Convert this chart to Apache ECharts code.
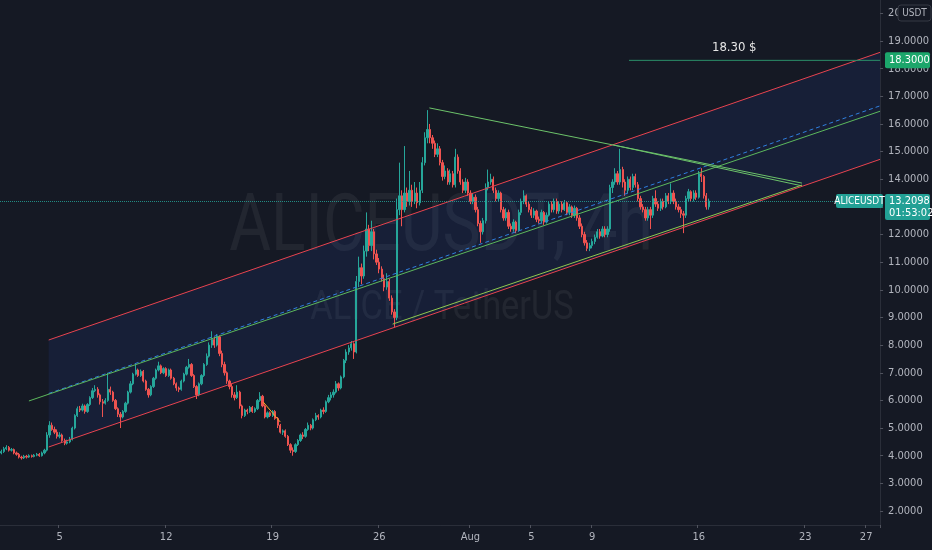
<!DOCTYPE html>
<html>
<head>
<meta charset="utf-8">
<script src="https://cdn.jsdelivr.net/npm/echarts@6/dist/echarts.min.js"></script>
<style>
html, body { margin: 0; padding: 0; background: #151924; }
#chart { width: 932px; height: 550px; }
</style>
</head>
<body>
<div id="chart"></div>
<script>
// ALICEUSDT 4h candles, first bar 2021-07-01 04:00
var startTime = Date.UTC(2021, 6, 1, 4);
var barCount = 347;

var opens = [
  4.1, 4.15, 4.25, 4.3, 4.2, 4.22, 4.1, 4.05, 3.95, 3.92,
  3.98, 3.95, 4.0, 3.97, 4.02, 4.05, 4.0, 4.1, 4.2, 4.75,
  5.1, 4.95, 4.85, 4.7, 4.75, 4.55, 4.45, 4.5, 4.6, 5.0,
  5.45, 5.7, 5.65, 5.8, 5.6, 5.85, 6.1, 6.35, 6.4, 6.2,
  5.95, 5.9, 6.0, 6.4, 6.3, 6.0, 5.7, 5.5, 5.4, 5.6,
  5.9, 6.3, 6.6, 6.95, 7.1, 6.9, 7.05, 6.7, 6.4, 6.2,
  6.5, 6.8, 7.1, 7.25, 7.0, 7.15, 6.9, 7.1, 6.8, 6.6,
  6.45, 6.4, 6.7, 6.95, 7.2, 7.3, 6.9, 6.5, 6.2, 6.6,
  6.9, 7.3, 7.6, 8.0, 8.2, 8.0, 8.3, 7.7, 7.3, 7.0,
  6.7, 6.5, 6.2, 6.1, 6.3, 5.8, 5.45, 5.65, 5.6, 5.75,
  5.6, 5.7, 6.0, 6.15, 5.8, 5.4, 5.55, 5.45, 5.6, 5.35,
  5.1, 4.85, 4.9, 4.7, 4.4, 4.2, 4.15, 4.4, 4.55, 4.75,
  4.7, 4.95, 5.1, 5.0, 5.3, 5.45, 5.4, 5.65, 5.6, 5.95,
  6.1, 6.2, 6.3, 6.6, 6.45, 6.85, 7.45, 7.75, 7.9, 8.05,
  7.75, 10.3, 10.8, 10.5, 11.4, 12.2, 11.6, 12.1, 11.3, 11.0,
  10.75, 10.4, 10.1, 10.3, 9.7, 9.2, 9.0, 12.9, 13.4, 12.9,
  13.5, 13.2, 13.6, 13.2, 13.5, 13.15, 13.6, 14.6, 15.5, 15.8,
  15.5, 15.3, 14.9, 15.1, 14.6, 14.1, 14.3, 13.9, 14.2, 13.8,
  14.8, 14.3, 13.9, 13.6, 13.9, 13.5, 13.2, 13.35, 12.9, 12.4,
  12.1, 12.5, 13.7, 13.9, 14.0, 13.6, 13.3, 13.5, 12.9, 12.6,
  12.8, 12.3, 12.2, 12.45, 12.15, 12.8, 13.2, 13.4, 13.1, 12.9,
  12.7, 12.85, 12.55, 12.5, 12.8, 12.45, 12.7, 13.1, 12.9, 13.2,
  12.85, 13.1, 12.9, 13.15, 12.8, 13.0, 12.7, 12.95, 12.6, 12.3,
  12.0, 11.7, 11.5, 11.6, 11.75, 11.9, 12.1, 11.95, 12.2, 12.0,
  12.2, 13.7, 13.9, 14.2, 13.9, 14.35, 13.9, 13.6, 14.0, 13.7,
  14.1, 13.8, 13.3, 13.0, 12.9, 12.6, 12.9, 12.7, 13.3, 13.1,
  12.95, 13.2, 13.0, 13.4, 13.2, 13.5, 13.2, 13.0, 12.9, 12.75,
  12.7, 13.3, 13.55, 13.3, 13.5, 13.35, 14.2, 14.1, 13.4, 13.0
];
var closes = [
  4.15, 4.25, 4.3, 4.2, 4.22, 4.1, 4.05, 3.95, 3.92, 3.98,
  3.95, 4.0, 3.97, 4.02, 4.05, 4.0, 4.1, 4.2, 4.75, 5.1,
  4.95, 4.85, 4.7, 4.75, 4.55, 4.45, 4.5, 4.6, 5.0, 5.45,
  5.7, 5.65, 5.8, 5.6, 5.85, 6.1, 6.35, 6.4, 6.2, 5.95,
  5.9, 6.0, 6.4, 6.3, 6.0, 5.7, 5.5, 5.4, 5.6, 5.9,
  6.3, 6.6, 6.95, 7.1, 6.9, 7.05, 6.7, 6.4, 6.2, 6.5,
  6.8, 7.1, 7.25, 7.0, 7.15, 6.9, 7.1, 6.8, 6.6, 6.45,
  6.4, 6.7, 6.95, 7.2, 7.3, 6.9, 6.5, 6.2, 6.6, 6.9,
  7.3, 7.6, 8.0, 8.2, 8.0, 8.3, 7.7, 7.3, 7.0, 6.7,
  6.5, 6.2, 6.1, 6.3, 5.8, 5.45, 5.65, 5.6, 5.75, 5.6,
  5.7, 6.0, 6.15, 5.8, 5.4, 5.55, 5.45, 5.6, 5.35, 5.1,
  4.85, 4.9, 4.7, 4.4, 4.2, 4.15, 4.4, 4.55, 4.75, 4.7,
  4.95, 5.1, 5.0, 5.3, 5.45, 5.4, 5.65, 5.6, 5.95, 6.1,
  6.2, 6.3, 6.6, 6.45, 6.85, 7.45, 7.75, 7.9, 8.05, 7.75,
  10.3, 10.8, 10.5, 11.4, 12.2, 11.6, 12.1, 11.3, 11.0, 10.75,
  10.4, 10.1, 10.3, 9.7, 9.2, 9.0, 12.9, 13.4, 12.9, 13.5,
  13.2, 13.6, 13.2, 13.5, 13.15, 13.6, 14.6, 15.5, 15.8, 15.5,
  15.3, 14.9, 15.1, 14.6, 14.1, 14.3, 13.9, 14.2, 13.8, 14.8,
  14.3, 13.9, 13.6, 13.9, 13.5, 13.2, 13.35, 12.9, 12.4, 12.1,
  12.5, 13.7, 13.9, 14.0, 13.6, 13.3, 13.5, 12.9, 12.6, 12.8,
  12.3, 12.2, 12.45, 12.15, 12.8, 13.2, 13.4, 13.1, 12.9, 12.7,
  12.85, 12.55, 12.5, 12.8, 12.45, 12.7, 13.1, 12.9, 13.2, 12.85,
  13.1, 12.9, 13.15, 12.8, 13.0, 12.7, 12.95, 12.6, 12.3, 12.0,
  11.7, 11.5, 11.6, 11.75, 11.9, 12.1, 11.95, 12.2, 12.0, 12.2,
  13.7, 13.9, 14.2, 13.9, 14.35, 13.9, 13.6, 14.0, 13.7, 14.1,
  13.8, 13.3, 13.0, 12.9, 12.6, 12.9, 12.7, 13.3, 13.1, 12.95,
  13.2, 13.0, 13.4, 13.2, 13.5, 13.2, 13.0, 12.9, 12.75, 12.7,
  13.3, 13.55, 13.3, 13.5, 13.35, 14.2, 14.1, 13.4, 13.0, 13.2098
];
var lows = [
  4.05, 4.1, 4.2, 4.15, 4.15, 4.05, 4.0, 3.9, 3.86, 3.88,
  3.9, 3.92, 3.93, 3.94, 3.98, 3.96, 3.97, 4.05, 4.15, 4.65,
  4.9, 4.78, 4.62, 4.63, 4.5, 4.38, 4.4, 4.45, 4.55, 4.95,
  5.4, 5.58, 5.6, 5.52, 5.55, 5.8, 6.05, 6.3, 6.1, 5.85,
  5.4, 5.85, 5.95, 6.2, 5.95, 5.65, 5.4, 5.0, 5.35, 5.55,
  5.85, 6.25, 6.55, 6.9, 6.85, 6.85, 6.65, 6.35, 6.1, 6.15,
  6.45, 6.75, 7.05, 6.95, 6.95, 6.85, 6.85, 6.75, 6.55, 6.35,
  6.3, 6.35, 6.65, 6.9, 7.15, 6.85, 6.45, 6.05, 6.15, 6.55,
  6.85, 7.25, 7.55, 7.9, 7.9, 7.95, 7.6, 7.2, 6.9, 6.6,
  6.4, 6.1, 6.0, 6.05, 5.7, 5.35, 5.4, 5.5, 5.55, 5.55,
  5.55, 5.65, 5.95, 5.75, 5.35, 5.35, 5.4, 5.4, 5.3, 5.0,
  4.8, 4.75, 4.65, 4.35, 4.1, 4.0, 4.1, 4.35, 4.5, 4.6,
  4.65, 4.9, 4.92, 4.95, 5.25, 5.3, 5.35, 5.5, 5.55, 5.9,
  6.0, 6.1, 6.25, 6.35, 6.4, 6.8, 7.35, 7.65, 7.8, 7.5,
  7.7, 10.1, 10.2, 10.4, 11.2, 11.4, 11.4, 11.1, 10.9, 10.6,
  10.3, 9.95, 10.0, 9.6, 9.1, 8.65, 8.9, 12.7, 12.3, 12.8,
  13.0, 13.05, 13.0, 13.1, 12.95, 13.05, 13.5, 14.5, 15.3, 15.3,
  15.1, 14.8, 14.8, 14.5, 13.95, 14.0, 13.8, 13.8, 13.7, 13.7,
  14.2, 13.8, 13.5, 13.5, 13.4, 13.1, 13.1, 12.8, 12.3, 11.7,
  12.0, 12.4, 13.6, 13.8, 13.5, 13.2, 13.2, 12.8, 12.5, 12.5,
  12.2, 12.1, 12.1, 12.05, 12.1, 12.7, 13.1, 13.0, 12.8, 12.6,
  12.6, 12.45, 12.4, 12.4, 12.35, 12.4, 12.65, 12.8, 12.8, 12.75,
  12.75, 12.8, 12.85, 12.7, 12.7, 12.6, 12.6, 12.5, 12.2, 11.9,
  11.6, 11.4, 11.4, 11.5, 11.65, 11.85, 11.85, 11.9, 11.9, 11.9,
  12.1, 13.5, 13.8, 13.8, 13.8, 13.7, 13.4, 13.5, 13.6, 13.6,
  13.7, 13.2, 12.9, 12.8, 12.5, 12.5, 12.2, 12.6, 13.0, 12.85,
  12.85, 12.9, 12.95, 13.1, 13.1, 13.1, 12.9, 12.8, 12.6, 12.05,
  12.6, 13.2, 13.2, 13.2, 13.25, 13.3, 13.9, 13.3, 12.9, 12.9
];
var highs = [
  4.22, 4.32, 4.38, 4.35, 4.28, 4.26, 4.15, 4.1, 4.0, 4.03,
  4.03, 4.05, 4.04, 4.06, 4.1, 4.1, 4.15, 4.25, 4.85, 5.25,
  5.2, 5.05, 4.95, 4.85, 4.8, 4.62, 4.58, 4.68, 5.05, 5.5,
  5.78, 5.8, 5.88, 5.85, 5.9, 6.15, 6.45, 6.55, 6.48, 6.25,
  6.05, 6.08, 7.0, 6.5, 6.35, 6.05, 5.75, 5.58, 5.65, 5.95,
  6.35, 6.7, 7.0, 7.3, 7.15, 7.12, 7.1, 6.75, 6.45, 6.55,
  6.85, 7.15, 7.4, 7.3, 7.2, 7.2, 7.15, 7.15, 6.85, 6.65,
  6.5, 6.75, 7.0, 7.25, 7.5, 7.35, 6.95, 6.55, 6.65, 6.95,
  7.35, 7.7, 8.1, 8.5, 8.3, 8.4, 8.35, 7.8, 7.4, 7.05,
  6.75, 6.6, 6.3, 6.55, 6.35, 5.85, 5.7, 5.7, 5.8, 5.8,
  5.75, 6.05, 6.3, 6.2, 5.85, 5.6, 5.6, 5.65, 5.65, 5.4,
  5.15, 4.95, 4.95, 4.75, 4.45, 4.3, 4.45, 4.6, 4.8, 4.85,
  5.0, 5.2, 5.15, 5.35, 5.55, 5.5, 5.7, 5.75, 6.0, 6.2,
  6.3, 6.4, 6.7, 6.65, 6.9, 7.5, 7.85, 8.0, 8.15, 8.1,
  10.5, 11.2, 10.95, 11.6, 12.8, 12.35, 12.5, 12.2, 11.45, 11.15,
  10.85, 10.55, 10.6, 10.4, 9.8, 9.3, 13.3, 14.6, 13.6, 15.2,
  13.7, 14.3, 13.8, 13.9, 13.7, 13.9, 14.8, 15.7, 16.5, 16.0,
  15.6, 15.4, 15.3, 15.2, 14.7, 14.5, 14.4, 14.35, 14.3, 15.1,
  14.9, 14.4, 14.0, 14.05, 14.0, 13.6, 13.5, 13.45, 13.0, 12.5,
  12.6, 13.85, 14.35, 14.2, 14.1, 13.7, 13.6, 13.55, 13.0, 12.95,
  12.9, 12.4, 12.55, 12.5, 12.9, 13.3, 13.6, 13.45, 13.2, 13.0,
  12.95, 12.9, 12.65, 12.9, 12.85, 12.8, 13.2, 13.2, 13.3, 13.3,
  13.2, 13.2, 13.25, 13.2, 13.1, 13.05, 13.05, 13.0, 12.7, 12.4,
  12.1, 11.8, 11.7, 11.85, 12.0, 12.2, 12.2, 12.3, 12.3, 12.3,
  13.8, 14.0, 14.4, 14.3, 15.1, 14.45, 14.0, 14.1, 14.1, 14.2,
  14.2, 13.9, 13.4, 13.1, 13.0, 13.0, 13.0, 13.4, 13.6, 13.2,
  13.3, 13.3, 13.5, 13.5, 13.85, 13.6, 13.3, 13.1, 13.0, 12.85,
  13.4, 13.65, 13.6, 13.6, 13.6, 14.3, 14.4, 14.15, 13.5, 13.3
];

// bottom axis labels (bar index -> text)
var dateTickIndex = [23, 65, 107, 149, 185, 209, 233, 275, 317, 341];
var dateTickText = ['5', '12', '19', '26', 'Aug', '5', '9', '16', '23', '27'];
var priceTicks = [2, 3, 4, 5, 6, 7, 8, 9, 10, 11, 12, 13, 14, 15, 16, 17, 18, 19, 20];

// drawings, as [bar index, price]
var channelTop = [[18.7, 8.185], [346.5, 18.59]];
var channelBottom = [[18.7, 4.315], [346.5, 14.72]];
var channelMid = [[18.7, 6.25], [346.5, 16.655]];
var trendUpper = [[10.9, 5.98], [346.5, 16.46]];
var triTopA = [[168.8, 16.58], [315.7, 13.86]];
var triTopB = [[241.3, 15.24], [315.7, 13.76]];
var triBottom = [[154.3, 8.76], [315.7, 13.79]];
var smallLeg = [[103.3, 5.94], [110.0, 5.22]];
var targetLine = [[247.5, 18.3], [346.5, 18.3]];
var targetPrice = 18.3;
var lastPrice = 13.2098;
var countdown = '01:53:02';

var categories = [];
for (var i = 0; i < barCount; i++) {
  var d = new Date(startTime + i * 4 * 3600 * 1000);
  categories.push(d.toISOString().slice(0, 16).replace('T', ' '));
}
var candles = opens.map(function (o, i) { return [o, closes[i], lows[i], highs[i]]; });
var tickMap = {};
dateTickIndex.forEach(function (k, i) { tickMap[k] = dateTickText[i]; });

var axisFont = "'Liberation Sans Narrow', 'DejaVu Sans Condensed', Roboto, sans-serif";
var up = '#26a69a', down = '#ef5350';
var red = '#e8434f', green = '#5cb85c';

function seg(pts, color, type) {
  return {
    type: 'line', xAxisIndex: 1, data: pts, symbol: 'none', silent: true, z: 4,
    lineStyle: { color: color, width: 1, type: type || 'solid' }
  };
}

var chart = echarts.init(document.getElementById('chart'));
var option = {
  backgroundColor: '#151924',
  animation: false,
  grid: { left: 0, right: 47, top: 0, bottom: 25 },
  xAxis: [
    {
      type: 'category', data: categories, boundaryGap: true,
      axisLine: { onZero: false, lineStyle: { color: '#2a2e39' } },
      axisTick: { show: true, length: 3, interval: function (idx) { return tickMap[idx] !== undefined; }, lineStyle: { color: '#50535e' } },
      axisLabel: {
        interval: function (idx) { return tickMap[idx] !== undefined; },
        formatter: function (v, idx) { return tickMap[idx] || ''; },
        color: '#b2b5be', fontSize: 11, fontFamily: axisFont, margin: 7
      },
      splitLine: { show: false }
    },
    { type: 'value', min: -0.5, max: 346.5, show: false }
  ],
  yAxis: {
    type: 'value', position: 'right', scale: true,
    min: 1.4936, max: 20.483,
    axisLine: { show: true, onZero: false, lineStyle: { color: '#2a2e39' } },
    axisTick: { show: true, length: 3, customValues: priceTicks, lineStyle: { color: '#50535e' } },
    axisLabel: {
      customValues: priceTicks,
      formatter: function (v) { return v.toFixed(4); },
      color: '#b2b5be', fontSize: 11, fontFamily: axisFont, margin: 8
    },
    splitLine: { show: false }
  },
  series: [
    {
      type: 'custom', xAxisIndex: 1, data: [0], silent: true, z: 1,
      renderItem: function (params, api) {
        var pts = [api.coord(channelTop[0]), api.coord(channelTop[1]), api.coord(channelBottom[1]), api.coord(channelBottom[0])];
        return { type: 'polygon', shape: { points: pts }, style: { fill: 'rgba(41,98,255,0.09)' } };
      }
    },
    {
      type: 'candlestick', data: candles, barWidth: '70%', z: 3,
      itemStyle: { color: up, color0: down, borderColor: up, borderColor0: down, borderWidth: 1 },
      markLine: {
        symbol: 'none', silent: true, animation: false,
        label: { show: false },
        lineStyle: { color: up, type: 'dotted', width: 1, opacity: 0.8 },
        data: [{ yAxis: lastPrice }]
      }
    },
    seg(channelTop, red),
    seg(channelBottom, red),
    seg(channelMid, '#2f7fe0', [4, 3]),
    seg(trendUpper, green),
    seg(triTopA, '#6cc36a'),
    seg(triTopB, '#6cc36a'),
    seg(triBottom, '#8fc94f'),
    seg(smallLeg, '#f5a623'),
    seg(targetLine, '#2b8f6a')
  ]
};
chart.setOption(option);

// watermark and price scale labels
var yT = chart.convertToPixel({ yAxisIndex: 0 }, targetPrice);
var yL = chart.convertToPixel({ yAxisIndex: 0 }, lastPrice);
var xT = chart.convertToPixel({ xAxisIndex: 1 }, 289);
var labelFont = "'Liberation Sans Narrow', 'DejaVu Sans Condensed', Roboto, sans-serif";
chart.setOption({
  graphic: [
    {
      type: 'text', x: 441, y: 230, scaleX: 0.8, z: 0, silent: true,
      style: { text: 'ALICEUSDT, 4h', fontSize: 80, fontFamily: 'Roboto', fill: 'rgba(255,255,255,0.06)', textAlign: 'center', textVerticalAlign: 'middle' }
    },
    {
      type: 'text', x: 442, y: 309, scaleX: 0.86, z: 0, silent: true,
      style: { text: 'ALICE / TetherUS', fontSize: 40, fontFamily: 'Roboto', fill: 'rgba(255,255,255,0.06)', textAlign: 'center', textVerticalAlign: 'middle' }
    },
    {
      type: 'text', x: xT, y: yT - 13, z: 10,
      style: { text: '18.30 $', fontSize: 13, fontFamily: labelFont, fill: '#e6e6e6', textAlign: 'center', textVerticalAlign: 'middle' }
    },
    { type: 'rect', shape: { x: 885, y: yT - 8, width: 45, height: 16, r: 2 }, style: { fill: '#1ca66b' }, z: 10 },
    {
      type: 'text', x: 889, y: yT, z: 11,
      style: { text: targetPrice.toFixed(4), fontSize: 11, fontFamily: labelFont, fill: '#ffffff', textVerticalAlign: 'middle' }
    },
    { type: 'rect', shape: { x: 836, y: yL - 7, width: 47, height: 14, r: 2 }, style: { fill: '#22a095' }, z: 10 },
    {
      type: 'text', x: 859.5, y: yL, z: 11,
      style: { text: 'ALICEUSDT', fontSize: 10, fontFamily: labelFont, fill: '#ffffff', textAlign: 'center', textVerticalAlign: 'middle' }
    },
    { type: 'rect', shape: { x: 885, y: yL - 7, width: 45, height: 26, r: 2 }, style: { fill: '#22a095' }, z: 10 },
    {
      type: 'text', x: 889, y: yL, z: 11,
      style: { text: lastPrice.toFixed(4), fontSize: 11, fontFamily: labelFont, fill: '#ffffff', textVerticalAlign: 'middle' }
    },
    {
      type: 'text', x: 889, y: yL + 12, z: 11,
      style: { text: countdown, fontSize: 11, fontFamily: labelFont, fill: '#ffffff', textVerticalAlign: 'middle' }
    },
    { type: 'rect', shape: { x: 898, y: 5, width: 33, height: 16, r: 3 }, style: { fill: '#151924', stroke: '#363a45' }, z: 10 },
    {
      type: 'text', x: 914.5, y: 13, z: 11,
      style: { text: 'USDT', fontSize: 10, fontFamily: labelFont, fill: '#b2b5be', textAlign: 'center', textVerticalAlign: 'middle' }
    }
  ]
});
</script>
</body>
</html>
